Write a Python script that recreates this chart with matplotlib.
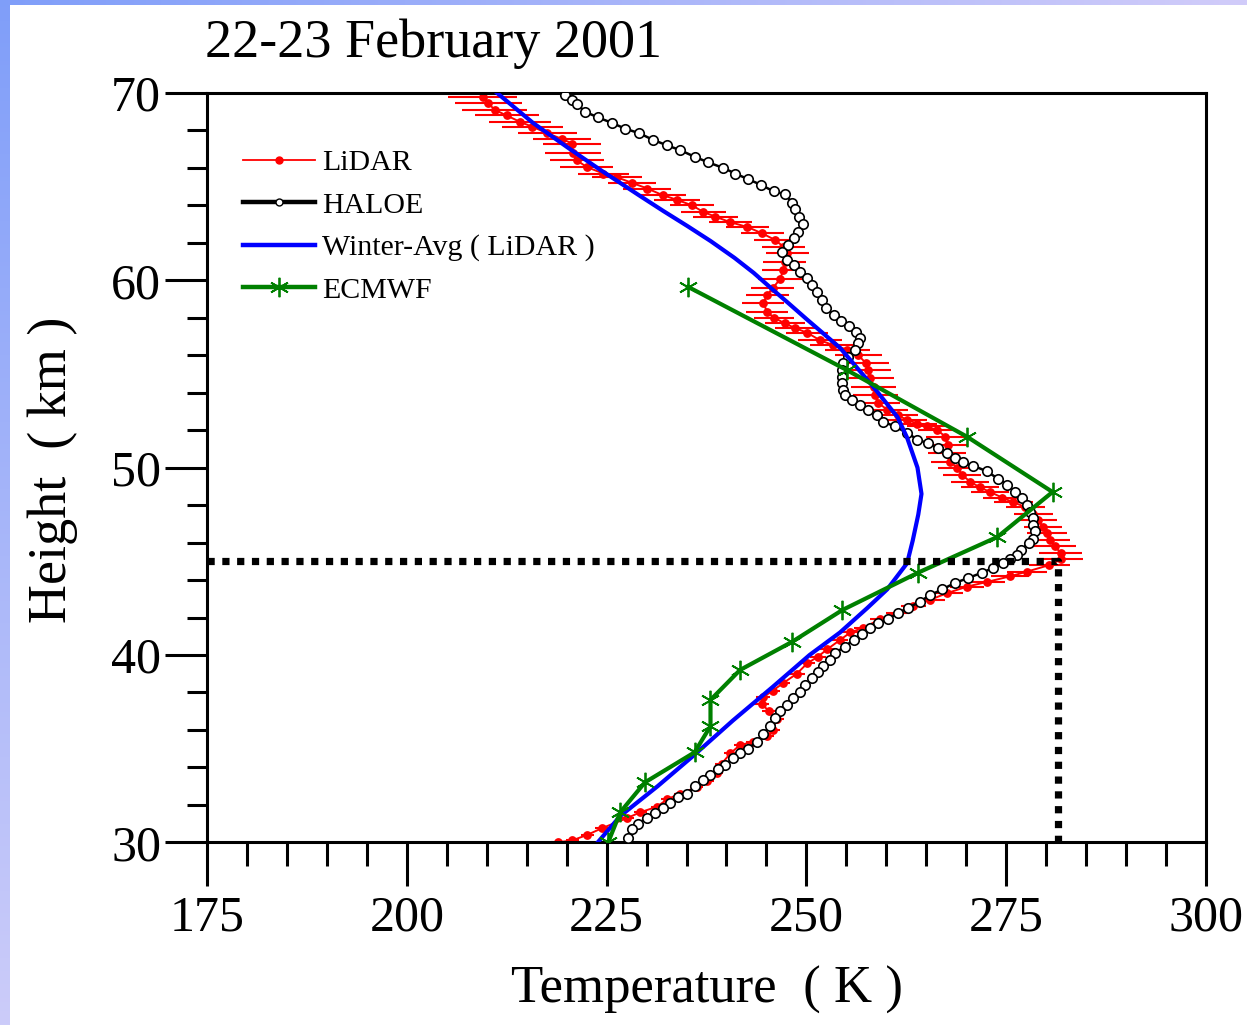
import numpy as np
import matplotlib
matplotlib.use('Agg')
import matplotlib.pyplot as plt
from matplotlib.lines import Line2D

plt.rcParams['font.family'] = ['Liberation Serif', 'DejaVu Serif']

title = "22-23 February 2001"
x_label = "Temperature  ( K )"
y_label = "Height  ( km )"
series_names = ["LiDAR", "HALOE", "Winter-Avg ( LiDAR )", "ECMWF"]

x_ticks = [175, 200, 225, 250, 275, 300]
y_ticks = [30, 40, 50, 60, 70]

# LiDAR (height km, temperature K, error K)
lidar_H = [69.8, 69.45, 69.1, 68.8, 68.45, 68.2, 67.85, 67.55, 67.3, 66.8, 66.4, 66.05,
           65.7, 65.5, 65.2, 64.9, 64.55, 64.3, 64.0, 63.65, 63.4, 63.1, 62.85, 62.5,
           62.15, 61.8, 61.45, 61.0, 60.55, 60.05, 59.6, 59.2, 58.8, 58.3, 58.0, 57.7,
           57.45, 57.2, 56.8, 56.55, 56.3, 56.0, 55.6, 55.2, 54.8, 54.3, 53.9, 53.45,
           53.1, 52.8, 52.55, 52.35, 52.2, 52.0, 51.65, 51.2, 50.8, 50.3, 50.0, 49.6,
           49.25, 48.95, 48.7, 48.4, 48.15, 47.9, 47.55, 47.2, 46.85, 46.5, 46.15, 45.8,
           45.45, 45.1, 44.8, 44.45, 44.2, 43.9, 43.65, 43.3, 42.95, 42.6, 42.25, 41.9,
           41.45, 41.2, 40.8, 40.3, 39.9, 39.55, 39.0, 38.5, 38.1, 37.75, 37.4, 37.0,
           36.6, 36.0, 35.65, 35.35, 35.2, 34.75, 34.2, 33.7, 33.25, 32.95, 32.6, 32.3,
           31.9, 31.6, 31.3, 30.75, 30.4, 30.1, 30.0]
lidar_T = [209.5, 210.2, 211.0, 212.5, 214.2, 215.7, 217.6, 219.4, 220.7, 220.8, 221.3, 222.5,
           224.6, 226.3, 228.2, 230.1, 232.0, 233.8, 235.7, 237.1, 238.6, 240.5, 242.6, 244.5,
           246.1, 247.1, 247.6, 247.3, 247.1, 246.7, 245.8, 245.1, 244.6, 245.1, 246.0, 247.3,
           248.6, 250.1, 251.7, 253.3, 255.1, 256.5, 257.4, 257.7, 258.0, 258.4, 258.6, 259.0,
           260.1, 261.4, 262.6, 263.9, 265.1, 266.4, 267.4, 267.7, 267.6, 268.0, 268.9, 269.5,
           270.5, 271.7, 273.0, 274.5, 275.9, 277.4, 278.4, 279.0, 279.6, 280.1, 280.5, 281.1,
           281.8, 281.9, 280.4, 277.6, 275.5, 272.6, 270.1, 267.6, 265.5, 263.4, 261.4, 259.2,
           257.1, 255.5, 254.2, 252.6, 251.4, 250.1, 248.8, 247.1, 245.8, 244.6, 244.4, 245.3,
           246.3, 245.8, 245.1, 243.3, 241.7, 240.5, 239.4, 238.8, 237.6, 236.3, 234.2, 232.6,
           231.3, 229.2, 227.6, 224.4, 222.6, 220.7, 218.9]
lidar_err = [4.3, 4.2, 4.1, 4.0, 3.9, 3.8, 3.7, 3.6, 3.6, 3.5, 3.4, 3.3,
             3.2, 3.1, 3.0, 3.0, 2.9, 2.9, 2.8, 2.8, 2.8, 2.7, 2.7, 2.7,
             2.7, 2.7, 2.7, 2.7, 2.7, 2.7, 2.7, 2.7, 2.6, 2.6, 2.5, 2.5,
             2.5, 2.6, 2.7, 2.8, 2.8, 2.9, 2.9, 2.9, 2.9, 2.8, 2.8, 2.7,
             2.6, 2.6, 2.5, 2.5, 2.5, 2.4, 2.4, 2.4, 2.4, 2.4, 2.4, 2.4,
             2.4, 2.4, 2.4, 2.4, 2.4, 2.4, 2.4, 2.4, 2.4, 2.5, 2.5, 2.6,
             2.7, 2.7, 2.6, 2.5, 2.4, 2.3, 2.1, 2.0, 1.8, 1.6, 1.5, 1.3,
             1.2, 1.1, 1.0, 1.0, 1.0, 1.0, 1.0, 0.9, 0.9, 0.9, 0.9, 0.9,
             0.9, 0.9, 0.8, 0.8, 0.8, 0.8, 0.8, 0.8, 0.8, 0.8, 0.8, 0.8,
             0.8, 0.8, 0.8, 0.8, 0.8, 0.8, 0.8]

# HALOE
haloe_H = [69.9, 69.6, 69.4, 69.0, 68.7, 68.4, 68.1, 67.85, 67.5, 67.2, 66.95, 66.6, 66.3,
           66.0, 65.7, 65.4, 65.1, 64.75, 64.6, 64.15, 63.8, 63.4, 63.0, 62.6, 62.25, 61.9,
           61.5, 61.1, 60.8, 60.45, 60.1, 59.75, 59.4, 58.95, 58.5, 58.15, 57.85, 57.55,
           57.25, 56.9, 56.65, 56.3, 55.9, 55.6, 55.2, 54.85, 54.5, 54.15, 53.9, 53.6,
           53.35, 53.1, 52.8, 52.45, 52.2, 51.85, 51.5, 51.3, 51.05, 50.8, 50.5, 50.3,
           50.1, 49.8, 49.4, 49.1, 48.7, 48.4, 48.0, 47.65, 47.3, 46.95, 46.6, 46.2, 46.0,
           45.6, 45.35, 45.1, 44.9, 44.65, 44.4, 44.1, 43.85, 43.5, 43.2, 42.85, 42.5,
           42.25, 41.9, 41.7, 41.45, 41.1, 40.8, 40.45, 40.1, 39.75, 39.4, 39.1, 38.75,
           38.4, 38.05, 37.7, 37.35, 37.0, 36.65, 36.2, 35.8, 35.35, 35.0, 34.75, 34.5,
           34.1, 33.9, 33.6, 33.3, 33.0, 32.6, 32.4, 32.1, 31.85, 31.55, 31.3, 31.0,
           30.7, 30.25]
haloe_T = [219.8, 220.7, 221.3, 222.3, 223.9, 225.7, 227.3, 229.1, 230.8, 232.6, 234.2, 236.0, 237.7,
           239.6, 241.1, 242.7, 244.3, 245.9, 247.3, 248.2, 248.6, 249.1, 249.6, 249.0, 248.5, 247.7,
           247.0, 247.6, 248.4, 249.2, 250.1, 250.7, 251.3, 252.0, 252.5, 253.4, 254.3, 255.3,
           256.2, 256.7, 256.5, 256.1, 255.2, 254.6, 254.5, 254.5, 254.5, 254.6, 254.8, 255.7,
           256.7, 257.7, 258.8, 259.6, 261.1, 262.6, 263.9, 265.2, 266.5, 267.6, 268.6, 269.6,
           270.9, 272.6, 274.0, 275.1, 276.1, 277.0, 277.6, 278.0, 278.3, 278.4, 278.6, 278.4, 277.8,
           276.9, 276.3, 275.5, 274.6, 273.4, 272.0, 270.2, 268.6, 267.0, 265.5, 264.2, 262.7,
           261.5, 260.2, 259.0, 258.0, 257.0, 255.9, 254.8, 253.6, 252.9, 252.1, 251.4, 250.7,
           249.8, 249.2, 248.3, 247.6, 246.7, 246.1, 245.5, 244.6, 243.8, 242.7, 241.7, 240.8,
           239.8, 239.0, 238.0, 237.1, 236.1, 235.1, 233.9, 232.9, 232.1, 231.1, 230.1, 228.9,
           228.2, 227.7]

# Winter average (LiDAR)
winter_H = [30.0, 31.4, 33.0, 34.6, 36.5, 38.3, 40.0, 41.2, 42.5, 43.5, 44.9, 46.1, 47.5,
            48.6, 50.0, 51.6, 52.7, 54.3, 55.5, 56.4, 57.9, 58.8, 59.5, 60.4, 61.2, 62.1,
            62.9, 63.7, 64.5, 65.9, 67.1, 68.4, 70.0]
winter_T = [223.9, 226.7, 231.4, 235.8, 240.8, 245.8, 250.4, 254.2, 257.6, 260.1, 262.6, 263.3, 264.0,
            264.4, 263.9, 262.6, 261.4, 258.4, 256.0, 254.2, 250.1, 247.7, 245.8, 243.4, 241.0, 238.0,
            235.1, 232.1, 229.2, 224.2, 220.1, 215.8, 211.3]

# ECMWF
ecmwf_H = [59.65, 55.2, 51.65, 48.7, 46.3, 44.4, 42.4, 40.7, 39.2, 37.6, 36.2, 34.8, 33.2, 31.6, 30.0]
ecmwf_T = [235.2, 255.1, 270.1, 280.8, 273.9, 264.0, 254.5, 248.2, 241.7, 238.0, 238.0, 236.0, 229.8, 226.7, 225.2]

# stratopause marker
peak_T = 281.5
peak_H = 45.0

W, H = 1247, 1025
fig = plt.figure(figsize=(W / 100, H / 100), dpi=100)

# slide background strips
bg = np.ones((H, W, 3))
tv = np.linspace(0, 1, H)[:, None]
left_col = (1 - tv) * np.array([0.50, 0.62, 0.98]) + tv * np.array([0.80, 0.80, 0.98])
bg[:, :10, :] = left_col[:, None, :]
th = np.linspace(0, 1, W)[:, None]
top_row = (1 - th) * np.array([0.50, 0.62, 0.98]) + th * np.array([0.82, 0.80, 0.98])
bg[:5, :, :] = top_row[None, :, :]
fig.figimage(bg, xo=0, yo=0, origin='upper', zorder=-10)

ax = fig.add_axes([207 / W, 1 - 842.3 / H, (1206 - 207) / W, (842.3 - 93) / H])
ax.set_zorder(5)
ax.set_xlim(175, 300)
ax.set_ylim(30, 70)

ax.errorbar(lidar_T, lidar_H, xerr=lidar_err, fmt='o-', color='red', ms=5.3,
            lw=1.4, elinewidth=1.5, capsize=0, zorder=2)
ax.plot(haloe_T, haloe_H, '-o', color='black', lw=1.8, ms=6.8, mfc='white',
        mec='black', mew=1.2, zorder=3)
ax.plot(winter_T, winter_H, color='#0000ff', lw=3.0, zorder=4)
ax.plot(ecmwf_T, ecmwf_H, color='#008000', lw=3.0, marker=(6, 2, 0), ms=14,
        mew=1.3, zorder=5)
ax.plot([175, peak_T, peak_T], [peak_H, peak_H, 30], color='black', lw=5.2,
        linestyle=(0, (1, 1.05)), dash_capstyle='butt', zorder=6, clip_on=False)

for s in ax.spines.values():
    s.set_linewidth(2.2)
ax.set_xticks(x_ticks)
ax.set_yticks(y_ticks)
ax.set_xticks(np.arange(175, 301, 5), minor=True)
ax.set_yticks(np.arange(30, 71, 2), minor=True)
ax.tick_params(axis='y', which='major', direction='out', length=30, width=2.2,
               labelsize=36, pad=3)
ax.tick_params(axis='y', which='minor', direction='out', length=14.5, width=2.2)
ax.tick_params(axis='x', which='major', direction='out', length=32, width=2.2,
               labelsize=36, pad=6)
ax.tick_params(axis='x', which='minor', direction='out', length=17, width=2.2)

handles = [
    Line2D([], [], color='red', lw=1.3, marker='o', ms=5),
    Line2D([], [], color='black', lw=3.2, marker='o', ms=5, mfc='white', mec='black', mew=1),
    Line2D([], [], color='#0000ff', lw=3.2),
    Line2D([], [], color='#008000', lw=3.2, marker=(6, 2, 0), ms=14, mew=1.3),
]
ax.legend(handles, series_names, loc='upper left', bbox_to_anchor=(0.036, 0.925),
          frameon=False, fontsize=21.5, handlelength=2.4, handletextpad=0.25,
          labelspacing=0.52, borderpad=0, borderaxespad=0)

fig.text(205 / W, 1 - 57 / H, title, fontsize=39, va='baseline', ha='left')
fig.text(707 / W, 1 - 1003 / H, x_label, fontsize=38, va='baseline', ha='center')
fig.text(53 / W, 1 - 470 / H, y_label, fontsize=39, va='center', ha='center', rotation=90)

fig.savefig('out.png', dpi=100)
